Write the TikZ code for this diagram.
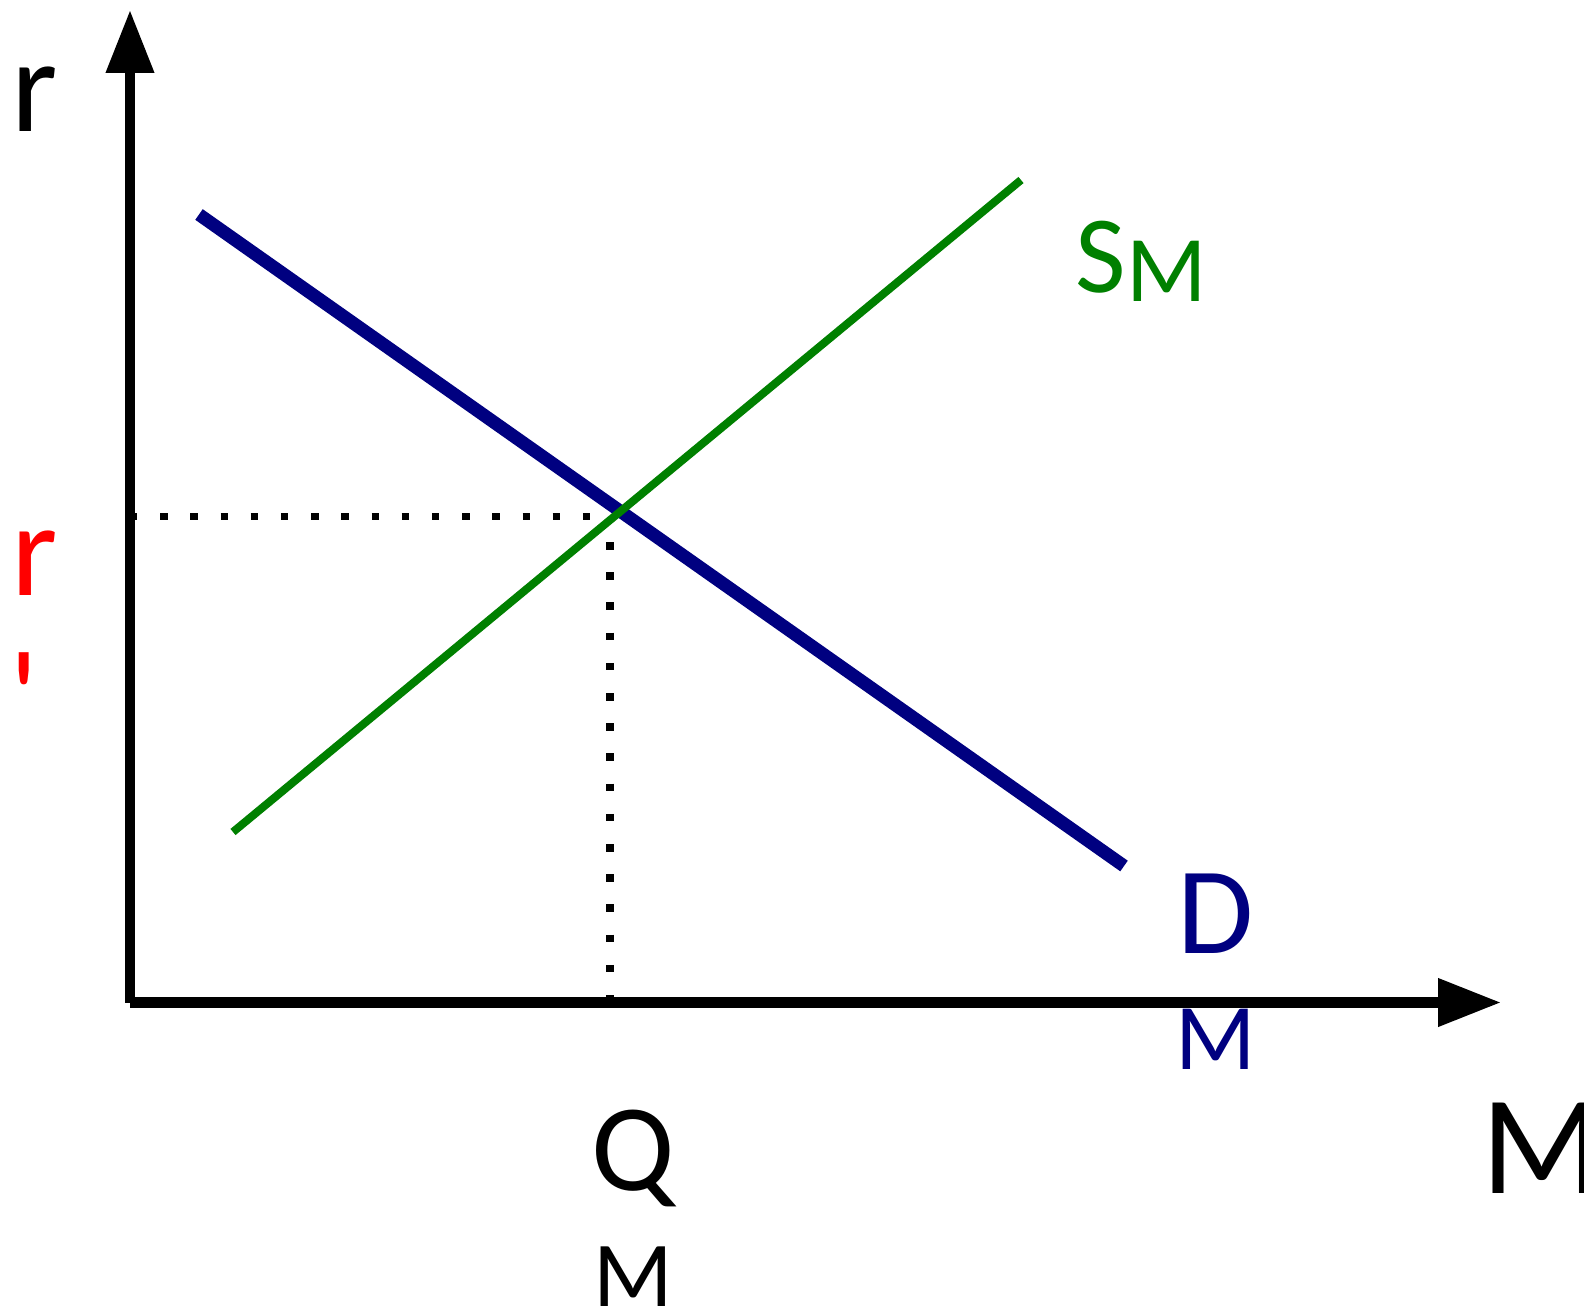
\documentclass[tikz,border=0pt]{standalone}
\usepackage{fontspec}
\setmainfont{Carlito}
\usepackage{tikz}
\usetikzlibrary{arrows.meta}
\definecolor{azul}{HTML}{000080}
\definecolor{verde}{HTML}{008000}
\definecolor{rojo}{HTML}{FF0000}
\newcommand{\tam}[1]{\fontsize{#1bp}{#1bp}\selectfont}
\tikzset{
  eje/.style={line width=10.5bp, black, -{Triangle[length=63bp, width=46bp]}},
  demanda/.style={line width=13bp, azul},
  oferta/.style={line width=8bp, verde},
  punteado/.style={line width=7.5bp, black, dash pattern=on 7.5bp off 22.7bp},
  etiqueta/.style={inner sep=0pt, anchor=base}
}

\begin{document}
\begin{tikzpicture}[x=1bp, y=-1bp]
  \useasboundingbox (0,0) rectangle (1584,1314);

  % --- Ejes ---
  \coordinate (origen) at (130,1002.5);
  \coordinate (ytope) at (130,10);
  \coordinate (xtope) at (1501,1002.5);
  \draw[eje] (origen) -- (ytope);
  \draw[eje] (origen) -- (xtope);

  % --- Equilibrio (punteado) ---
  \coordinate (rini) at (129.9,516.5);
  \coordinate (rfin) at (591,516.5);
  \coordinate (qini) at (610,542);
  \coordinate (qfin) at (610,1002.5);
  \draw[punteado] (rini) -- (rfin);
  \draw[punteado] (qini) -- (qfin);

  % --- Curvas ---
  \coordinate (d1) at (199,214.5);
  \coordinate (d2) at (1124,866);
  \coordinate (s1) at (233,832);
  \coordinate (s2) at (1021,180);
  \draw[demanda] (d1) -- (d2);
  \draw[oferta] (s1) -- (s2);

  % --- Etiquetas ---
  \node[etiqueta, font=\tam{133}] (rlab) at (35,132) {r};
  \node[etiqueta, rojo, font=\tam{133}] (req) at (35,595) {r};
  \node[etiqueta, rojo, font=\tam{133}] (rprima) at (24,742) {\textquotesingle};
  \node[etiqueta, verde, font=\tam{110}] (slab) at (1141,293)
    {S\raisebox{-9bp}{\tam{94}M}};
  \node[etiqueta, azul, font=\tam{124}] (dlab) at (1216,953) {D};
  \node[etiqueta, azul, font=\tam{94}] (dsub) at (1216,1069) {M};
  \node[etiqueta, font=\tam{124}] (qlab) at (633,1190) {Q};
  \node[etiqueta, font=\tam{93}] (qsub) at (633,1306) {M};
  \node[etiqueta, font=\tam{141}] (mlab) at (1542,1193) {M};

\end{tikzpicture}
\end{document}
